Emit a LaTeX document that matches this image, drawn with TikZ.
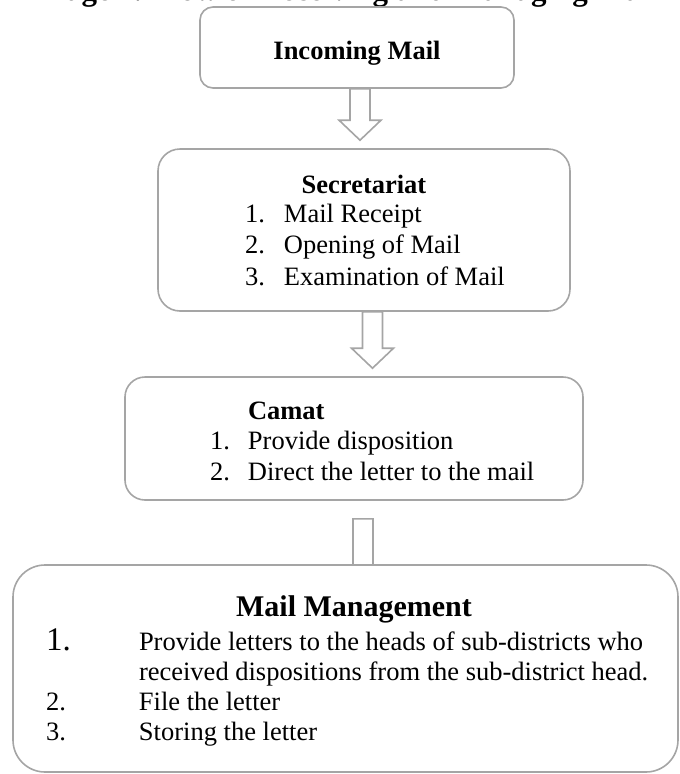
\documentclass[tikz,border=0pt]{standalone}
\usepackage{fontspec}
\setmainfont{Liberation Serif}
\usetikzlibrary{calc, backgrounds}
\definecolor{linegray}{HTML}{A5A5A5}
\tikzstyle{box} = [rectangle, draw=linegray, line width=1.6pt, fill=white]
\tikzstyle{txt} = [inner sep=0pt, outer sep=0pt, font=\fontsize{26.5}{31.5}\selectfont]
\tikzstyle{head} = [txt, font=\fontsize{26.5}{31.5}\selectfont\bfseries, anchor=base]
\tikzstyle{blockarrow} = [draw=linegray, line width=1.6pt, fill=white, line join=miter,
  to path={let \p1=(\tikztostart), \p2=(\tikztotarget) in
    (\x1-10pt,\y1) -- (\x1-10pt,\y2+28pt) -- (\x1-21pt,\y2+28pt) -- (\x1,\y2+8pt)
    -- (\x1+21pt,\y2+28pt) -- (\x1+10pt,\y2+28pt) -- (\x1+10pt,\y1) -- cycle}]

\begin{document}
\begin{tikzpicture}[x=1pt, y=-1pt]
\useasboundingbox (0,0) rectangle (680,774);

% Nodes
\node (title) [head, font=\fontsize{31}{36}\selectfont\bfseries] at (343,0) {Image 1. Flow of Receiving and Managing Mail};

\node (inmail) [box, rounded corners=13pt, minimum width=314pt, minimum height=81pt] at (357,47.5) {};
\node (inmailtxt) [head] at (357,59) {Incoming Mail};

\node (secr) [box, rounded corners=22pt, minimum width=412pt, minimum height=162pt] at (364,230) {};
\node (secrtxt) [head] at (364,193) {Secretariat};
\node (secrlist) [txt, anchor=base west] at (245,222) {%
  \begin{tabular}[t]{@{}p{39pt}@{}l@{}}
  1. & Mail Receipt\\
  2. & Opening of Mail\\
  3. & Examination of Mail
  \end{tabular}};

\node (camat) [box, rounded corners=20pt, minimum width=458pt, minimum height=123pt] at (354,438.5) {};
\node (camatlist) [txt, font=\fontsize{26.5}{30.5}\selectfont, anchor=base west] at (210,419) {%
  \begin{tabular}[t]{@{}p{38pt}@{}l@{}}
   & \textbf{Camat}\\
  1. & Provide disposition\\
  2. & Direct the letter to the mail
  \end{tabular}};

\node (mgmt) [box, rounded corners=32pt, minimum width=665pt, minimum height=207pt] at (345.5,668.5) {};
\node (mgmttxt) [head, font=\fontsize{30}{36}\selectfont\bfseries] at (354,616) {Mail Management};
\node (mgmtlist) [txt, font=\fontsize{26.5}{30}\selectfont, anchor=base west] at (46,650) {%
  \begin{tabular}[t]{@{}p{93pt}@{}l@{}}
  {\fontsize{33}{30}\selectfont 1.} & Provide letters to the heads of sub-districts who\\
   & received dispositions from the sub-district head.\\
  2. & File the letter\\
  3. & Storing the letter
  \end{tabular}};

% Arrows
\draw [blockarrow] ([xshift=3pt]inmail.south) to (secr.north);
\draw [blockarrow] ([xshift=8.5pt]secr.south) to (camat.north);
\begin{scope}[on background layer]
\draw [blockarrow] ([xshift=9pt, yshift=-18pt]camat.south) to ([yshift=-40pt]mgmt.north);
\end{scope}

\end{tikzpicture}
\end{document}
